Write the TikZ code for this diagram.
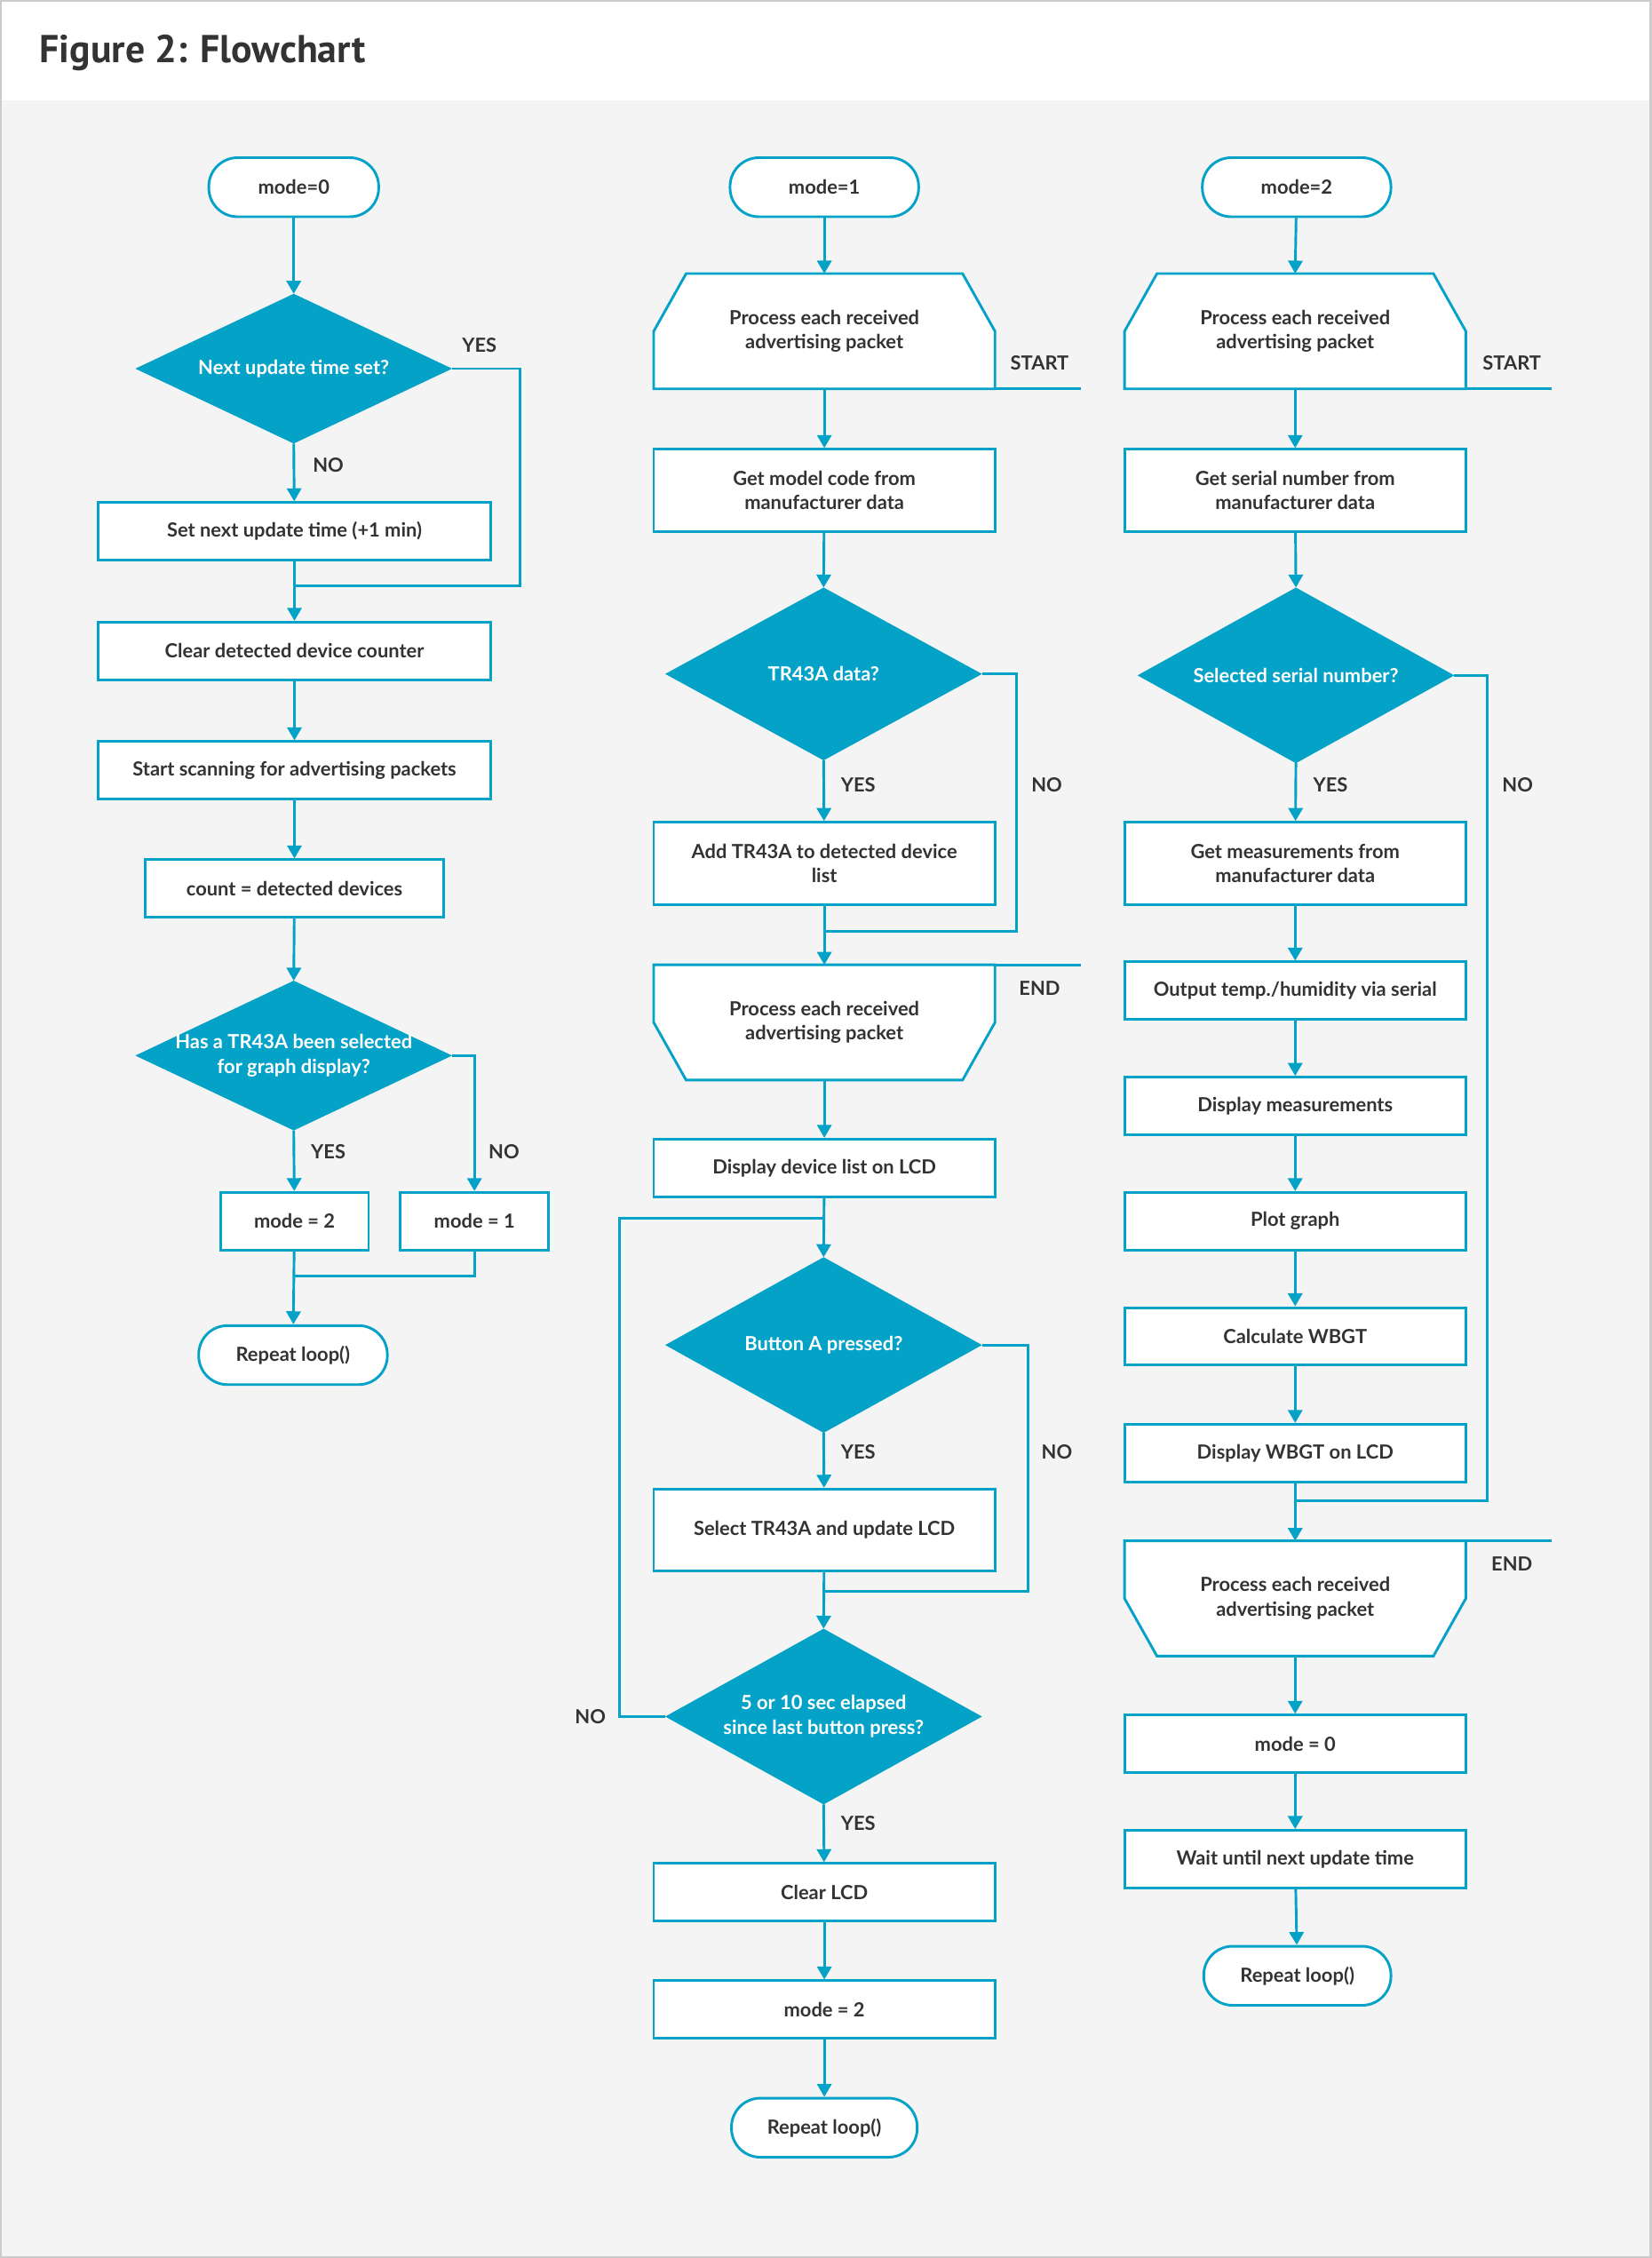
\documentclass[tikz,border=0pt]{standalone}
\usepackage{fontspec}
\setmainfont{Lato}
\newfontfamily\hdr{PT Sans}
\usetikzlibrary{arrows.meta}
\definecolor{tl}{HTML}{05A2C7}
\definecolor{txt}{HTML}{333333}
\definecolor{bg}{HTML}{F4F4F4}
\definecolor{bd}{HTML}{CCCCCC}
\tikzset{
 fnt/.style={font=\bfseries\fontsize{13.5}{17}\selectfont},
 box/.style={draw=tl, fill=white, line width=1.8pt, minimum height=40pt, align=center, fnt, text=txt, inner sep=0pt},
 box2/.style={box, minimum height=57pt, minimum width=237pt},
 term/.style={box, rounded corners=20pt, minimum height=41pt},
 arr/.style={draw=tl, line width=1.8pt, -{Triangle[length=9pt,width=10pt]}},
 ln/.style={draw=tl, line width=1.8pt},
 lab/.style={fnt, text=txt},
 dtext/.style={fnt, text=white, align=center},
 ptext/.style={fnt, text=txt, align=center}
}
\newcommand\dia[6]{%
 \fill[tl] (#2-#4,#3) -- (#2,#3-#5) -- (#2+#4,#3) -- (#2,#3+#5) -- cycle;
 \coordinate (#1-w) at (#2-#4,#3);
 \coordinate (#1-e) at (#2+#4,#3);
 \coordinate (#1-n) at (#2,#3-#5);
 \coordinate (#1-s) at (#2,#3+#5);
 \node[dtext] (#1) at (#2,#3) {#6};}
\newcommand\lstart[4]{%
 \filldraw[ln, fill=white] (#2-118.5,#3+80) -- (#2-118.5,#3+40) -- (#2-96,#3) -- (#2+96,#3) -- (#2+118.5,#3+40) -- (#2+118.5,#3+80) -- cycle;
 \draw[ln] (#2+118.5,#3+80) -- (#2+178,#3+80);
 \node[ptext] (#1) at (#2,#3+40) {#4};
 \coordinate (#1-n) at (#2,#3);
 \coordinate (#1-s) at (#2,#3+80);}
\newcommand\lend[4]{%
 \filldraw[ln, fill=white] (#2-118.5,#3) -- (#2-118.5,#3+40) -- (#2-96,#3+80) -- (#2+96,#3+80) -- (#2+118.5,#3+40) -- (#2+118.5,#3) -- cycle;
 \draw[ln] (#2+118.5,#3) -- (#2+178,#3);
 \node[ptext] (#1) at (#2,#3+40) {#4};
 \coordinate (#1-n) at (#2,#3);
 \coordinate (#1-s) at (#2,#3+80);}
\begin{document}
\begin{tikzpicture}[x=1pt,y=-1pt]
\useasboundingbox (0,0) rectangle (1147,1568);
\fill[bg] (0,70) rectangle (1147,1568);
\fill[white] (0,0) rectangle (1147,70);
\draw[bd, line width=1.5pt] (0.75,0.75) rectangle (1146.25,1567.25);
\node[anchor=west, text=txt, font=\hdr\bfseries\fontsize{27}{30}\selectfont] (title) at (24,37) {Figure 2: Flowchart};

% ---------- column 1
\node[term, minimum width=118pt] (m0) at (204,130) {mode=0};
\dia{d1}{204}{256}{110}{52}{Next update time set?}
\node[box, minimum width=273pt] (b1) at (204.5,369) {Set next update time (+1 min)};
\node[box, minimum width=273pt] (b2) at (204.5,452) {Clear detected device counter};
\node[box, minimum width=273pt] (b3) at (204.5,535) {Start scanning for advertising packets};
\node[box, minimum width=207pt] (b4) at (204.5,617) {count = detected devices};
\dia{d2}{204}{733}{110}{52}{Has a TR43A been selected\\for graph display?}
\node[box, minimum width=103pt] (b5) at (204.5,848) {mode = 2};
\node[box, minimum width=103pt] (b6) at (329.5,848) {mode = 1};
\node[term, minimum width=131pt] (r1) at (203.5,941) {Repeat loop()};
\coordinate (j1) at (361,407);
\coordinate (j1b) at (204,407);
\coordinate (j2) at (204,886);
\draw[arr] (m0) -- (d1-n);
\draw[arr] (d1-s) -- (b1);
\draw[ln] (d1-e) -| (j1) -- (j1b);
\draw[arr] (b1) -- (b2);
\draw[arr] (b2) -- (b3);
\draw[arr] (b3) -- (b4);
\draw[arr] (b4) -- (d2-n);
\draw[arr] (d2-s) -- (b5);
\draw[arr] (d2-e) -| (b6.north);
\draw[arr] (b5) -- (r1);
\draw[ln] (b6.south) |- (j2);
\node[lab] (l1) at (333,240) {YES};
\node[lab] (l2) at (228,323) {NO};
\node[lab] (l3) at (228,800) {YES};
\node[lab] (l4) at (350,800) {NO};

% ---------- column 2
\node[term, minimum width=131pt] (m1) at (572.5,130) {mode=1};
\lstart{s2}{572.5}{190}{Process each received\\advertising packet}
\node[box2] (c1) at (572.5,340.5) {Get model code from\\manufacturer data};
\dia{d3}{572}{468}{110}{60}{TR43A data?}
\node[box2] (c2) at (572.5,599.5) {Add TR43A to detected device\\list};
\lend{e2}{572.5}{670}{Process each received\\advertising packet}
\node[box, minimum width=237pt] (c3) at (572.5,811) {Display device list on LCD};
\dia{d4}{572}{934}{110}{61}{Button A pressed?}
\node[box2] (c4) at (572.5,1062.5) {Select TR43A and update LCD};
\dia{d5}{572}{1192}{110}{61}{5 or 10 sec elapsed\\since last button press?}
\node[box, minimum width=237pt] (c5) at (572.5,1314) {Clear LCD};
\node[box, minimum width=237pt] (c6) at (572.5,1395.5) {mode = 2};
\node[term, minimum width=129pt] (r2) at (572.5,1477.5) {Repeat loop()};
\coordinate (k1) at (706,647);
\coordinate (k1b) at (572,647);
\coordinate (k2) at (714,1105);
\coordinate (k2b) at (572,1105);
\coordinate (k3) at (430,846);
\coordinate (k3b) at (572,846);
\draw[arr] (m1) -- (s2-n);
\draw[arr] (s2-s) -- (c1);
\draw[arr] (c1) -- (d3-n);
\draw[arr] (d3-s) -- (c2);
\draw[ln] (d3-e) -| (k1) -- (k1b);
\draw[arr] (c2) -- (e2-n);
\draw[arr] (e2-s) -- (c3);
\draw[arr] (c3) -- (d4-n);
\draw[arr] (d4-s) -- (c4);
\draw[ln] (d4-e) -| (k2) -- (k2b);
\draw[arr] (c4) -- (d5-n);
\draw[ln] (d5-w) -| (k3) -- (k3b);
\draw[arr] (d5-s) -- (c5);
\draw[arr] (c5) -- (c6);
\draw[arr] (c6) -- (r2);
\node[lab] (l5) at (722,252) {START};
\node[lab] (l6) at (596,545) {YES};
\node[lab] (l7) at (727,545) {NO};
\node[lab] (l8) at (722,686) {END};
\node[lab] (l9) at (596,1008) {YES};
\node[lab] (l10) at (734,1008) {NO};
\node[lab] (l11) at (410,1192) {NO};
\node[lab] (l12) at (596,1266) {YES};

% ---------- column 3
\node[term, minimum width=131pt] (m2) at (900.5,130) {mode=2};
\lstart{s3}{899.5}{190}{Process each received\\advertising packet}
\node[box2] (f1) at (899.5,340.5) {Get serial number from\\manufacturer data};
\dia{d6}{900}{469}{110}{61}{Selected serial number?}
\node[box2] (f2) at (899.5,599.5) {Get measurements from\\manufacturer data};
\node[box, minimum width=237pt] (f3) at (899.5,688) {Output temp./humidity via serial};
\node[box, minimum width=237pt] (f4) at (899.5,768) {Display measurements};
\node[box, minimum width=237pt] (f5) at (899.5,848) {Plot graph};
\node[box, minimum width=237pt] (f6) at (899.5,928) {Calculate WBGT};
\node[box, minimum width=237pt] (f7) at (899.5,1009) {Display WBGT on LCD};
\lend{e3}{899.5}{1070}{Process each received\\advertising packet}
\node[box, minimum width=237pt] (f8) at (899.5,1211) {mode = 0};
\node[box, minimum width=237pt] (f9) at (899.5,1291) {Wait until next update time};
\node[term, minimum width=130pt] (r3) at (901,1372) {Repeat loop()};
\coordinate (q1) at (1033,1042);
\coordinate (q1b) at (900,1042);
\draw[arr] (m2) -- (s3-n);
\draw[arr] (s3-s) -- (f1);
\draw[arr] (f1) -- (d6-n);
\draw[arr] (d6-s) -- (f2);
\draw[ln] (d6-e) -| (q1) -- (q1b);
\draw[arr] (f2) -- (f3);
\draw[arr] (f3) -- (f4);
\draw[arr] (f4) -- (f5);
\draw[arr] (f5) -- (f6);
\draw[arr] (f6) -- (f7);
\draw[arr] (f7) -- (e3-n);
\draw[arr] (e3-s) -- (f8);
\draw[arr] (f8) -- (f9);
\draw[arr] (f9) -- (r3);
\node[lab] (l13) at (1050,252) {START};
\node[lab] (l14) at (924,545) {YES};
\node[lab] (l15) at (1054,545) {NO};
\node[lab] (l16) at (1050,1086) {END};
\end{tikzpicture}
\end{document}
